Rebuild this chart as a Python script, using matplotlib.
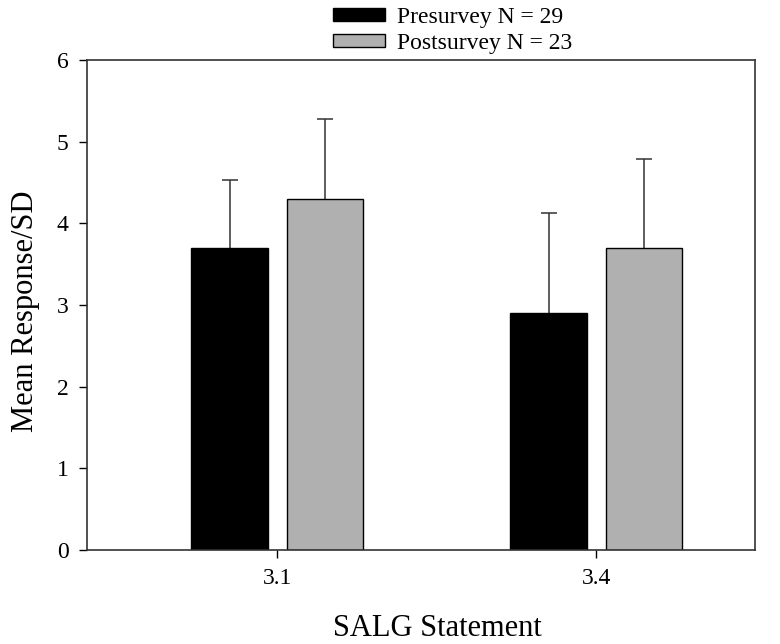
import matplotlib
matplotlib.use('Agg')
import matplotlib.pyplot as plt
import numpy as np

# Data
statements = ['3.1', '3.4']
pre_mean = [3.7, 2.9]
pre_sd = [0.83, 1.22]
post_mean = [4.3, 3.7]
post_sd = [0.98, 1.09]
labels = ['Presurvey N = 29', 'Postsurvey N = 23']

plt.rcParams['font.family'] = ['Liberation Serif', 'DejaVu Serif']

fig = plt.figure(figsize=(7.8, 6.44), dpi=100)
ax = fig.add_axes([0.1115, 0.146, 0.8565, 0.761])

x = np.arange(len(statements))
w = 0.241
groups = [(x - 0.149, pre_mean, pre_sd, 'black', labels[0]),
          (x + 0.150, post_mean, post_sd, '#b0b0b0', labels[1])]
for pos, mean, sd, col, lab in groups:
    ax.bar(pos, mean, w, color=col, edgecolor='black', linewidth=1, label=lab, zorder=2)
    # only the upper half of the error bar is shown
    _, caps, _ = ax.errorbar(pos, mean, yerr=[np.zeros(len(sd)), sd], fmt='none',
                             ecolor='#333333', elinewidth=1.1, capsize=5.5,
                             capthick=1.1, zorder=1)
    for c in caps:
        if np.allclose(c.get_ydata(), mean):
            c.set_visible(False)

ax.set_xlim(-0.596, 1.498)
ax.set_ylim(0, 6)
ax.set_xticks(x)
ax.set_xticklabels(statements)
ax.set_yticks(range(7))
ax.tick_params(direction='out', length=5.8, width=1, labelsize=17, pad=7.5)
for s in ax.spines.values():
    s.set_linewidth(1.2)
    s.set_color('#333333')

ax.set_ylabel('Mean Response/SD', fontsize=22, va='baseline')
ax.yaxis.set_label_coords(-0.081, 0.488)
ax.set_xlabel('SALG Statement', fontsize=22, va='baseline')
ax.xaxis.set_label_coords(0.524, -0.1755)

fig.legend(loc='upper left', bbox_to_anchor=(0.427, 0.989), frameon=False,
           fontsize=17, handlelength=2.2, handleheight=0.5, labelspacing=0.2,
           handletextpad=0.5, borderpad=0, borderaxespad=0)

plt.savefig('out.png', dpi=100)
